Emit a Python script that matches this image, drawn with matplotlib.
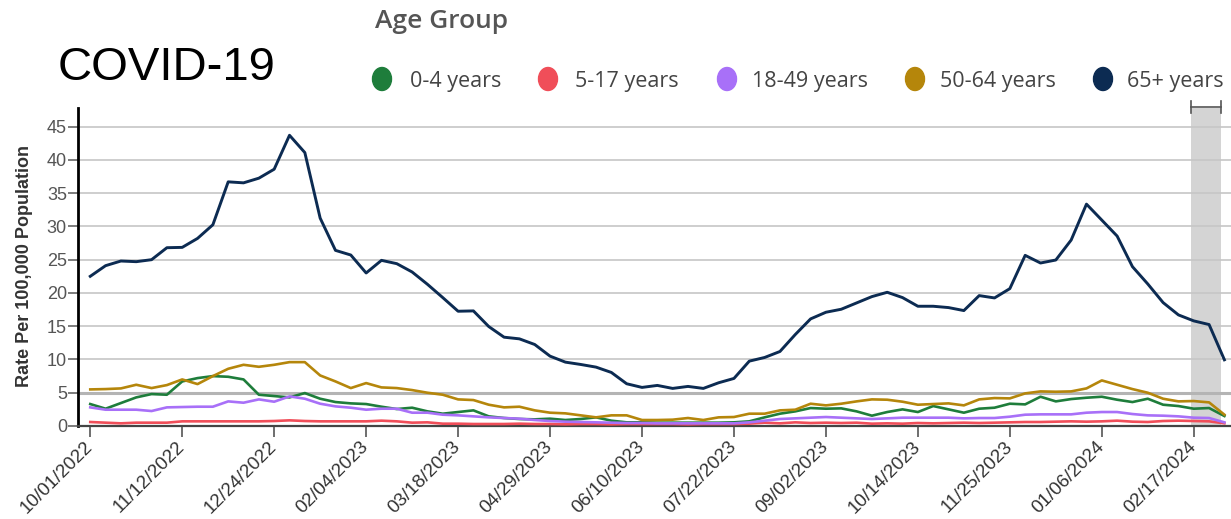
import numpy as np
import pandas as pd
import matplotlib
matplotlib.use('Agg')
import matplotlib.pyplot as plt
from matplotlib.patches import Ellipse
from matplotlib.transforms import blended_transform_factory

# weekly rates per 100,000, starting week of 10/01/2022
weeks = pd.date_range('2022-10-01', periods=75, freq='7D')
tick_labels = ['10/01/2022', '11/12/2022', '12/24/2022', '02/04/2023', '03/18/2023',
               '04/29/2023', '06/10/2023', '07/22/2023', '09/02/2023', '10/14/2023',
               '11/25/2023', '01/06/2024', '02/17/2024']

age_groups = ['0-4 years', '5-17 years', '18-49 years', '50-64 years', '65+ years']
colors = ['#1e7d3b', '#f04e59', '#a870f8', '#b5860b', '#0c2b52']

rate_0_4 = [3.3, 2.6, 3.45, 4.3, 4.8, 4.7, 6.7, 7.2, 7.5, 7.4,
            7.0, 4.7, 4.5, 4.3, 4.95, 4.1, 3.6, 3.4, 3.3, 2.9,
            2.55, 2.75, 2.2, 1.85, 2.1, 2.35, 1.45, 1.2, 1.05, 1.0,
            1.1, 0.9, 1.05, 1.3, 0.8, 0.55, 0.55,
            0.5, 0.5, 0.5, 0.5, 0.5, 0.55, 0.7, 1.3, 1.85, 2.2,
            2.7, 2.6, 2.65, 2.2, 1.55, 2.1, 2.5, 2.1, 3.0, 2.5,
            2.0, 2.6, 2.75, 3.35, 3.25, 4.4, 3.7, 4.05, 4.25, 4.4,
            3.95, 3.6, 4.1, 3.2, 3.0, 2.6, 2.7, 1.5]
rate_5_17 = [0.6, 0.5, 0.4, 0.5, 0.5, 0.5, 0.7, 0.7, 0.7, 0.7,
             0.7, 0.7, 0.75, 0.85, 0.75, 0.7, 0.7, 0.7, 0.7, 0.8,
             0.7, 0.5, 0.55, 0.35, 0.35, 0.3, 0.3, 0.3, 0.35, 0.3,
             0.3, 0.25, 0.3, 0.3, 0.25, 0.3, 0.3,
             0.3, 0.3, 0.25, 0.3, 0.3, 0.3, 0.35, 0.5, 0.4, 0.55,
             0.45, 0.5, 0.45, 0.5, 0.35, 0.4, 0.35, 0.45, 0.4, 0.45,
             0.5, 0.45, 0.5, 0.55, 0.6, 0.6, 0.65, 0.7, 0.65, 0.7,
             0.8, 0.65, 0.6, 0.75, 0.8, 0.75, 0.7, 0.4]
rate_18_49 = [2.8, 2.45, 2.45, 2.45, 2.25, 2.8, 2.85, 2.9, 2.9, 3.7,
              3.5, 4.0, 3.65, 4.45, 4.1, 3.35, 2.95, 2.75, 2.45, 2.6,
              2.6, 2.0, 2.0, 1.7, 1.6, 1.45, 1.3, 1.2, 1.1, 0.9,
              0.75, 0.65, 0.6, 0.55, 0.5, 0.45, 0.45,
              0.4, 0.4, 0.4, 0.4, 0.4, 0.4, 0.55, 0.8, 1.05, 1.15,
              1.25, 1.35, 1.25, 1.15, 1.05, 1.15, 1.25, 1.25, 1.25, 1.25,
              1.15, 1.2, 1.2, 1.4, 1.7, 1.75, 1.75, 1.75, 2.0, 2.1,
              2.1, 1.8, 1.6, 1.55, 1.45, 1.25, 1.2, 0.55]
rate_50_64 = [5.5, 5.55, 5.65, 6.2, 5.7, 6.15, 7.0, 6.3, 7.5, 8.6,
              9.2, 8.9, 9.2, 9.6, 9.6, 7.6, 6.7, 5.7, 6.45, 5.8,
              5.7, 5.4, 5.0, 4.7, 4.0, 3.9, 3.2, 2.8, 2.9, 2.35,
              2.0, 1.9, 1.6, 1.3, 1.6, 1.6, 0.9,
              0.9, 0.95, 1.2, 0.9, 1.3, 1.35, 1.85, 1.85, 2.35, 2.45,
              3.35, 3.1, 3.35, 3.7, 4.0, 3.95, 3.65, 3.2, 3.3, 3.4,
              3.1, 4.0, 4.2, 4.15, 4.9, 5.2, 5.15, 5.2, 5.65, 6.85,
              6.2, 5.55, 5.0, 4.1, 3.7, 3.75, 3.55, 1.7]
rate_65 = [22.5, 24.1, 24.8, 24.7, 25.0, 26.8, 26.85, 28.2, 30.25, 36.7,
           36.55, 37.25, 38.6, 43.7, 41.1, 31.25, 26.4, 25.7, 23.0, 24.9,
           24.4, 23.15, 21.3, 19.3, 17.25, 17.3, 14.95, 13.35, 13.1, 12.25,
           10.5, 9.6, 9.25, 8.85, 8.05, 6.35, 5.8, 6.1, 5.65, 5.95,
           5.65, 6.5, 7.15, 9.75, 10.3, 11.2, 13.75, 16.1, 17.1, 17.55,
           18.5, 19.45, 20.1, 19.3, 18.0, 18.0, 17.8, 17.35, 19.6, 19.25,
           20.65, 25.65, 24.5, 24.95, 27.95, 33.35, 30.95, 28.55, 23.95, 21.35,
           18.55, 16.7, 15.8, 15.25, 9.95]

series = [rate_0_4, rate_5_17, rate_18_49, rate_50_64, rate_65]
x = np.arange(len(weeks))

W, H = 1231, 519
fig = plt.figure(figsize=(W / 100, H / 100), dpi=100)
ax = fig.add_axes([78 / W, 1 - 426 / H, 1 - 78 / W, (426 - 108) / H])

# incomplete-data shading
ax.axvspan(71.8, 73.8, color='#d4d4d4', lw=0, zorder=0.2)
tr = blended_transform_factory(ax.transData, ax.transAxes)
ax.plot([71.8, 73.8], [1.003, 1.003], transform=tr, color='#555555', lw=1.2, clip_on=False)
for xv in (71.8, 73.8):
    ax.plot([xv, xv], [0.985, 1.022], transform=tr, color='#555555', lw=1.2, clip_on=False)

for vals, c in zip(series[:4], colors[:4]):
    ax.plot(x, vals, color=c, lw=1.9, zorder=3)
ax.plot(x, rate_65, color=colors[4], lw=2.1, zorder=4)

ax.set_xlim(-0.8, 74.43)
ax.set_ylim(0, 47.8)
ax.set_yticks(range(0, 50, 5))
ax.yaxis.grid(True, color='#c6c6c6', lw=1.2, zorder=0.5)
ax.axhline(5, color='#b4b4b4', lw=2.2, zorder=0.6)
ax.set_axisbelow(True)

ax.set_xticks(x[::6])
ax.set_xticklabels(tick_labels, rotation=45, ha='right', va='center',
                   rotation_mode='anchor', fontsize=13.5, color='#333333',
                   family='Liberation Sans')
ax.tick_params(axis='x', length=8, width=1.2, color='#555555', pad=5)
ax.tick_params(axis='y', length=7, width=1.2, color='#666666', pad=1,
               labelsize=13, labelcolor='#555555')
for lab in ax.get_yticklabels():
    lab.set_family('Liberation Sans')

for s in ['top', 'right']:
    ax.spines[s].set_visible(False)
ax.spines['left'].set_color('black')
ax.spines['left'].set_linewidth(2)
ax.spines['bottom'].set_color('#444444')
ax.spines['bottom'].set_linewidth(1.6)

fig.text(25 / W, 1 - 266 / H, 'Rate Per 100,000 Population', rotation=90,
         ha='center', va='center', fontsize=13, fontweight='bold',
         color='#333333', family='Liberation Sans')

fig.text(58 / W, 1 - 68 / H, 'COVID-19', fontsize=34, ha='left', va='center',
         color='black', family='Liberation Sans')

fig.text(375 / W, 1 - 22 / H, 'Age Group', fontsize=19, ha='left', va='center',
         color='#555555', family='Open Sans', fontweight='semibold')

dot_x = [382, 548, 727, 915, 1103]
text_x = [410, 575, 752, 940, 1127]
for label, c, dx, tx in zip(age_groups, colors, dot_x, text_x):
    fig.add_artist(Ellipse((dx / W, 1 - 79 / H), 19 / W, 23 / H,
                           transform=fig.transFigure, color=c))
    fig.text(tx / W, 1 - 81 / H, label, fontsize=15.5, ha='left', va='center',
             color='#444444', family='Open Sans')

fig.savefig('out.png', dpi=100, facecolor='white')
